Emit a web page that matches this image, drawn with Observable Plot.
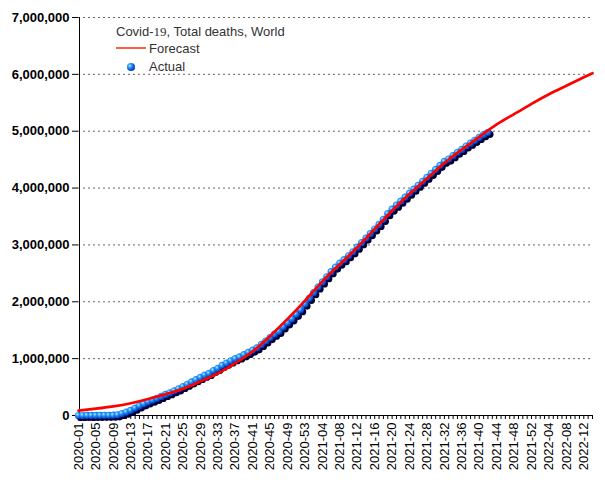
<!DOCTYPE html>
<html>
<head>
<meta charset="utf-8">
<script src="https://cdn.jsdelivr.net/npm/d3@7"></script>
<script src="https://cdn.jsdelivr.net/npm/@observablehq/plot@0.6"></script>
<style>
  html, body { margin: 0; padding: 0; background: #fff; }
  #chart svg { display: block; }
</style>
</head>
<body>
<div id="chart"></div>
<script>
// ---- Categories: ISO-style week labels (2020 has 53 weeks) ----
const years = [{y: "2020", n: 53}, {y: "2021", n: 52}, {y: "2022", n: 14}];
const weeks = [];
for (const {y, n} of years) for (let w = 1; w <= n; w++) weeks.push(`${y}-${String(w).padStart(2, "0")}`);

// ---- Tick labels (every 4th week) ----
const tickLabels = ["2020-01","2020-05","2020-09","2020-13","2020-17","2020-21","2020-25","2020-29","2020-33","2020-37","2020-41","2020-45","2020-49","2020-53",
  "2021-04","2021-08","2021-12","2021-16","2021-20","2021-24","2021-28","2021-32","2021-36","2021-40","2021-44","2021-48","2021-52",
  "2022-04","2022-08","2022-12"];
const yTicks = [0, 1e6, 2e6, 3e6, 4e6, 5e6, 6e6, 7e6];

// ---- Actual total deaths (millions), weekly from 2020-01 ----
const actualValues = [
  0.0001,0.0003,0.0006,0.001,0.0017,0.0025,0.003,0.0035,0.005,0.012,
  0.035,0.06,0.09,0.13,0.17,0.205,0.24,0.27,0.30,0.335,
  0.37,0.40,0.435,0.47,0.51,0.55,0.59,0.63,0.67,0.71,
  0.74,0.79,0.83,0.88,0.92,0.96,1.00,1.03,1.07,1.11,
  1.15,1.19,1.25,1.31,1.37,1.43,1.48,1.56,1.63,1.70,
  1.78,1.86,1.96,2.06,2.16,2.26,2.35,2.44,2.53,2.61,
  2.68,2.74,2.81,2.88,2.96,3.04,3.12,3.20,3.28,3.36,
  3.45,3.55,3.63,3.70,3.77,3.84,3.91,3.98,4.05,4.12,
  4.19,4.26,4.33,4.40,4.47,4.51,4.57,4.63,4.68,4.74,
  4.79,4.84,4.89,4.94,4.98
];

// ---- Forecast total deaths (millions), every 4th week ----
const forecastWeeks = [...tickLabels, "2022-14"];
const forecastValues = [0.085,0.12,0.16,0.215,0.29,0.375,0.47,0.60,0.74,0.92,
  1.13,1.40,1.70,2.02,2.36,2.66,2.96,3.28,3.60,3.90,
  4.17,4.44,4.68,4.90,5.12,5.30,5.48,5.65,5.80,5.95,6.02];

const actual = actualValues.map((v, i) => ({week: weeks[i], deaths: v * 1e6}));
const forecast = forecastValues.map((v, i) => ({week: forecastWeeks[i], deaths: v * 1e6}));

const chart = Plot.plot({
  width: 605,
  height: 480,
  marginLeft: 78,
  marginRight: 13,
  marginTop: 17,
  marginBottom: 65,
  style: {fontFamily: "'Liberation Sans', Arial, sans-serif", fontSize: "13px", color: "#000", background: "#fff"},
  x: {type: "point", domain: weeks, padding: 0, axis: null},
  y: {domain: [0, 7e6], axis: null},
  marks: [
    Plot.gridY(yTicks.slice(1), {stroke: "#666", strokeOpacity: 1, strokeDasharray: "2,3", strokeWidth: 1}),
    Plot.axisY(yTicks, {tickSize: 6, tickPadding: 3, tickFormat: d3.format(","), fontWeight: "bold", fontSize: 13, stroke: "#000", label: null}),
    Plot.axisX(weeks, {tickSize: 4, tickFormat: () => "", stroke: "#000", label: null}),
    Plot.axisX(tickLabels, {tickSize: 0, tickPadding: 7, tickRotate: -90, fontSize: 13, label: null}),
    Plot.ruleY([0], {stroke: "#000", strokeWidth: 1}),
    Plot.ruleX([weeks[0]], {stroke: "#000", strokeWidth: 1, dx: 1}),
    Plot.dot(actual, {x: "week", y: "deaths", r: 3.6, fill: "#000033", dx: 2, dy: 2}),
    Plot.dot(actual, {x: "week", y: "deaths", r: 3.6, fill: "url(#sphere)"}),
    Plot.line(forecast, {x: "week", y: "deaths", stroke: "#ff0000", strokeWidth: 2.7, curve: "natural"})
  ]
});

document.getElementById("chart").appendChild(chart);

// gradient for sphere look
const svg = d3.select(chart);
const defs = svg.insert("defs", ":first-child");
const g = defs.append("radialGradient").attr("id", "sphere").attr("cx", "35%").attr("cy", "35%").attr("r", "65%");
g.append("stop").attr("offset", "0%").attr("stop-color", "#b8f0ff");
g.append("stop").attr("offset", "35%").attr("stop-color", "#2a9cff");
g.append("stop").attr("offset", "100%").attr("stop-color", "#0033bb");

// legend
const lg = svg.append("g")
  .attr("font-family", "'Liberation Sans', Arial, sans-serif")
  .attr("font-size", 13)
  .attr("fill", "#333")
  .attr("text-anchor", "start");
const t = lg.append("text").attr("x", 116).attr("y", 36);
t.append("tspan").text("Covid-");
t.append("tspan").attr("font-family", "'Liberation Serif', 'DejaVu Serif', serif").text("19");
t.append("tspan").text(", Total deaths, World");
lg.append("line").attr("x1", 116).attr("x2", 146).attr("y1", 48).attr("y2", 48).attr("stroke", "#ff2a00").attr("stroke-width", 1.5);
lg.append("text").attr("x", 149).attr("y", 53).text("Forecast");
lg.append("circle").attr("cx", 131).attr("cy", 67).attr("r", 4).attr("fill", "url(#sphere)");
lg.append("text").attr("x", 149).attr("y", 71).text("Actual");
</script>
</body>
</html>
